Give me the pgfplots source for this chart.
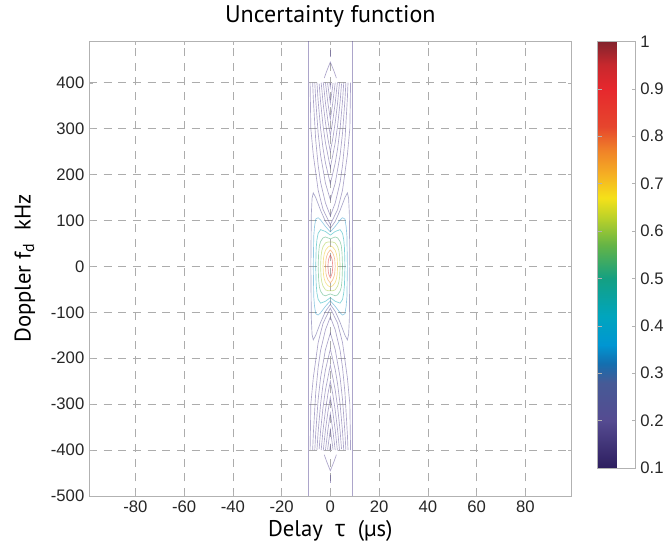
\documentclass[border=0pt]{standalone}
\usepackage{fontspec}
\setmainfont{Liberation Sans}
\newfontfamily\labfont{PT Sans}
\newfontfamily\grk{Open Sans}
\usepackage{pgfplots}
\pgfplotsset{compat=1.18}

\definecolor{cP}{RGB}{90,75,150}
\definecolor{c2}{RGB}{85,80,150}
\definecolor{c3}{RGB}{40,150,200}
\definecolor{c4}{RGB}{0,165,175}
\definecolor{c5}{RGB}{60,170,110}
\definecolor{c6}{RGB}{160,200,50}
\definecolor{c7}{RGB}{240,200,30}
\definecolor{c8}{RGB}{240,130,40}
\definecolor{c9}{RGB}{225,40,45}

\pgfplotsset{ct/.style={line width=0.5pt, opacity=0.5, mark=none}}

\begin{document}
\begin{tikzpicture}[x=1pt,y=1pt]
\path[use as bounding box] (-66.75,-36) rectangle (432.75,372);
\begin{axis}[
  scale only axis, width=362pt, height=341pt,
  at={(0,0)}, anchor=south west,
  xmin=-99, xmax=99, ymin=-500, ymax=490,
  xtick={-80,-60,...,80}, ytick={-500,-400,...,400},
  grid=major,
  major grid style={gray!65, dash pattern=on 6pt off 5pt, line width=0.4pt},
  axis line style={gray!60}, tick style={gray!60},
  tick align=inside, major tick length=3pt,
  title={\labfont Uncertainty function},
  every axis title/.style={at={(axis description cs:0.5,1.054)}, anchor=center,
    font=\fontsize{18}{21}\selectfont},
  xlabel={\labfont Delay\ \ {\grk τ}\ \ (µs)},
  ylabel={\labfont Doppler f\textsubscript{d}\ \ kHz},
  every axis x label/.style={at={(axis description cs:0.5,-0.076)}, anchor=center,
    font=\fontsize{17}{20}\selectfont},
  every axis y label/.style={at={(axis description cs:-0.133,0.5)}, rotate=90, anchor=center,
    font=\fontsize{17}{20}\selectfont},
  tick label style={font=\fontsize{12.5}{14}\selectfont, text=black!85},
  /pgf/number format/assume math mode=true,
  colormap={uf}{rgb255(10)=(45,30,95) rgb255(20)=(85,75,145) rgb255(28)=(70,90,150)
    rgb255(32)=(20,110,175) rgb255(36)=(0,150,210) rgb255(42)=(0,165,190)
    rgb255(50)=(20,160,130) rgb255(57)=(100,180,70) rgb255(63)=(190,210,40)
    rgb255(67)=(245,225,25) rgb255(72)=(245,175,35) rgb255(77)=(240,130,40)
    rgb255(82)=(230,70,45) rgb255(90)=(230,40,45) rgb255(95)=(200,40,45)
    rgb255(100)=(130,35,45)},
  point meta min=0.1, point meta max=1,
  colorbar,
  colorbar style={
    at={(1.054,1)}, anchor=north west,
    scale only axis, width=28.5pt, height=320pt,
    ytick={0.1,0.2,0.3,0.4,0.5,0.6,0.7,0.8,0.9,1},
    axis line style={gray!60}, tick style={gray!60},
    ytick align=inside, major tick length=3pt,
    yticklabel style={font=\fontsize{12.5}{14}\selectfont, text=black!85,
      /pgf/number format/assume math mode=true,
      /pgf/number format/fixed, /pgf/number format/precision=1},
  },
]
% outer edges
\addplot[ct, cP] coordinates {(-9,-500) (-9,490)};
\addplot[ct, cP] coordinates {(9,-500) (9,490)};

% main lobe levels 0.2 ... 0.9
\addplot[ct, c2] coordinates {(0,83) (2,98) (4,122) (6,150) (7,160) (7.5,148) (7.8,114) (8,0)
  (7.8,-114) (7.5,-148) (7,-160) (6,-150) (4,-122) (2,-98) (0,-83)
  (-2,-98) (-4,-122) (-6,-150) (-7,-160) (-7.5,-148) (-7.8,-114) (-8,0)
  (-7.8,114) (-7.5,148) (-7,160) (-6,150) (-4,122) (-2,98) (0,83)};
\addplot[ct, c3] coordinates {(0,75) (2,87) (4,101) (5,106) (6,103) (6.5,86) (6.8,66) (7,0)
  (6.8,-66) (6.5,-86) (6,-103) (5,-106) (4,-101) (2,-87) (0,-75)
  (-2,-87) (-4,-101) (-5,-106) (-6,-103) (-6.5,-86) (-6.8,-66) (-7,0)
  (-6.8,66) (-6.5,86) (-6,103) (-5,106) (-4,101) (-2,87) (0,75)};
\addplot[ct, c4] coordinates {(0,68) (2,76) (4,80) (5,72) (5.5,58) (5.8,40) (6,0)
  (5.8,-40) (5.5,-58) (5,-72) (4,-80) (2,-76) (0,-68)
  (-2,-76) (-4,-80) (-5,-72) (-5.5,-58) (-5.8,-40) (-6,0)
  (-5.8,40) (-5.5,58) (-5,72) (-4,80) (-2,76) (0,68)};
\addplot[ct, c5] coordinates {(0,60) (2,64) (3,62) (4,54) (4.5,45) (4.8,29) (5,0)
  (4.8,-29) (4.5,-45) (4,-54) (3,-62) (2,-64) (0,-60)
  (-2,-64) (-3,-62) (-4,-54) (-4.5,-45) (-4.8,-29) (-5,0)
  (-4.8,29) (-4.5,45) (-4,54) (-3,62) (-2,64) (0,60)};
\addplot[ct, c6] coordinates {(0,53) (1,53) (2,51) (3,43) (3.5,34) (3.8,23) (4,0)
  (3.8,-23) (3.5,-34) (3,-43) (2,-51) (1,-53) (0,-53)
  (-1,-53) (-2,-51) (-3,-43) (-3.5,-34) (-3.8,-23) (-4,0)
  (-3.8,23) (-3.5,34) (-3,43) (-2,51) (-1,53) (0,53)};
\addplot[ct, c7] coordinates {(0,45) (1,42) (2,35) (2.5,27) (2.8,18) (3,0)
  (2.8,-18) (2.5,-27) (2,-35) (1,-42) (0,-45)
  (-1,-42) (-2,-35) (-2.5,-27) (-2.8,-18) (-3,0)
  (-2.8,18) (-2.5,27) (-2,35) (-1,42) (0,45)};
\addplot[ct, c8] coordinates {(0,36) (1,29) (1.5,22) (1.8,15) (2,0)
  (1.8,-15) (1.5,-22) (1,-29) (0,-36)
  (-1,-29) (-1.5,-22) (-1.8,-15) (-2,0)
  (-1.8,15) (-1.5,22) (-1,29) (0,36)};
\addplot[ct, c9] coordinates {(0,25) (0.5,19) (0.8,13) (1,0)
  (0.8,-13) (0.5,-19) (0,-25) (-0.5,-19) (-0.8,-13) (-1,0)
  (-0.8,13) (-0.5,19) (0,25)};

% sidelobe chevrons, positive Doppler
\addplot[ct, cP] coordinates {(-8.3,400) (-8,300) (-7,243) (-5,166) (-3,124) (0,91) (3,124) (5,166) (7,243) (8,300) (8.3,400)};
\addplot[ct, cP] coordinates {(-7.25,400) (-7,367) (-6,275) (-5,220) (-4,183) (-2,138) (0,110) (2,138) (4,183) (5,220) (6,275) (7,367) (7.25,400)};
\addplot[ct, cP] coordinates {(-6.375,400) (-6,363) (-5,290) (-4,242) (-2,181) (0,145) (2,181) (4,242) (5,290) (6,363) (6.375,400)};
\addplot[ct, cP] coordinates {(-5.5,400) (-5,360) (-4,300) (-3,257) (-2,225) (0,180) (2,225) (3,257) (4,300) (5,360) (5.5,400)};
\addplot[ct, cP] coordinates {(-4.6,398) (-4,358) (-3,307) (-2,269) (0,215) (2,269) (3,307) (4,358) (4.6,398)};
\addplot[ct, cP] coordinates {(-3.75,400) (-3,357) (-2,313) (-1,278) (0,250) (1,278) (2,313) (3,357) (3.75,400)};
\addplot[ct, cP] coordinates {(-2.9,401) (-2,356) (-1,317) (0,285) (1,317) (2,356) (2.9,401)};
\addplot[ct, cP] coordinates {(-2,400) (-1,356) (0,320) (1,356) (2,400)};
\addplot[ct, cP] coordinates {(-1.1,399) (-1,394) (0,355) (1,394) (1.1,399)};
\addplot[ct, cP] coordinates {(-0.25,400) (0,390) (0.25,400)};
\addplot[ct, cP] coordinates {(-2.5,410) (-1.5,425) (0,445) (1.5,425) (2.5,410)};
\addplot[ct, cP] coordinates {(0,455) (0,472)};

% sidelobe chevrons, negative Doppler
\addplot[ct, cP] coordinates {(-8.3,-400) (-8,-300) (-7,-243) (-5,-166) (-3,-124) (0,-91) (3,-124) (5,-166) (7,-243) (8,-300) (8.3,-400)};
\addplot[ct, cP] coordinates {(-7.25,-400) (-7,-367) (-6,-275) (-5,-220) (-4,-183) (-2,-138) (0,-110) (2,-138) (4,-183) (5,-220) (6,-275) (7,-367) (7.25,-400)};
\addplot[ct, cP] coordinates {(-6.375,-400) (-6,-363) (-5,-290) (-4,-242) (-2,-181) (0,-145) (2,-181) (4,-242) (5,-290) (6,-363) (6.375,-400)};
\addplot[ct, cP] coordinates {(-5.5,-400) (-5,-360) (-4,-300) (-3,-257) (-2,-225) (0,-180) (2,-225) (3,-257) (4,-300) (5,-360) (5.5,-400)};
\addplot[ct, cP] coordinates {(-4.6,-398) (-4,-358) (-3,-307) (-2,-269) (0,-215) (2,-269) (3,-307) (4,-358) (4.6,-398)};
\addplot[ct, cP] coordinates {(-3.75,-400) (-3,-357) (-2,-313) (-1,-278) (0,-250) (1,-278) (2,-313) (3,-357) (3.75,-400)};
\addplot[ct, cP] coordinates {(-2.9,-401) (-2,-356) (-1,-317) (0,-285) (1,-317) (2,-356) (2.9,-401)};
\addplot[ct, cP] coordinates {(-2,-400) (-1,-356) (0,-320) (1,-356) (2,-400)};
\addplot[ct, cP] coordinates {(-1.1,-399) (-1,-394) (0,-355) (1,-394) (1.1,-399)};
\addplot[ct, cP] coordinates {(-0.25,-400) (0,-390) (0.25,-400)};
\addplot[ct, cP] coordinates {(-2.5,-410) (-1.5,-425) (0,-445) (1.5,-425) (2.5,-410)};
\addplot[ct, cP] coordinates {(0,-455) (0,-472)};
\end{axis}
\end{tikzpicture}
\end{document}
